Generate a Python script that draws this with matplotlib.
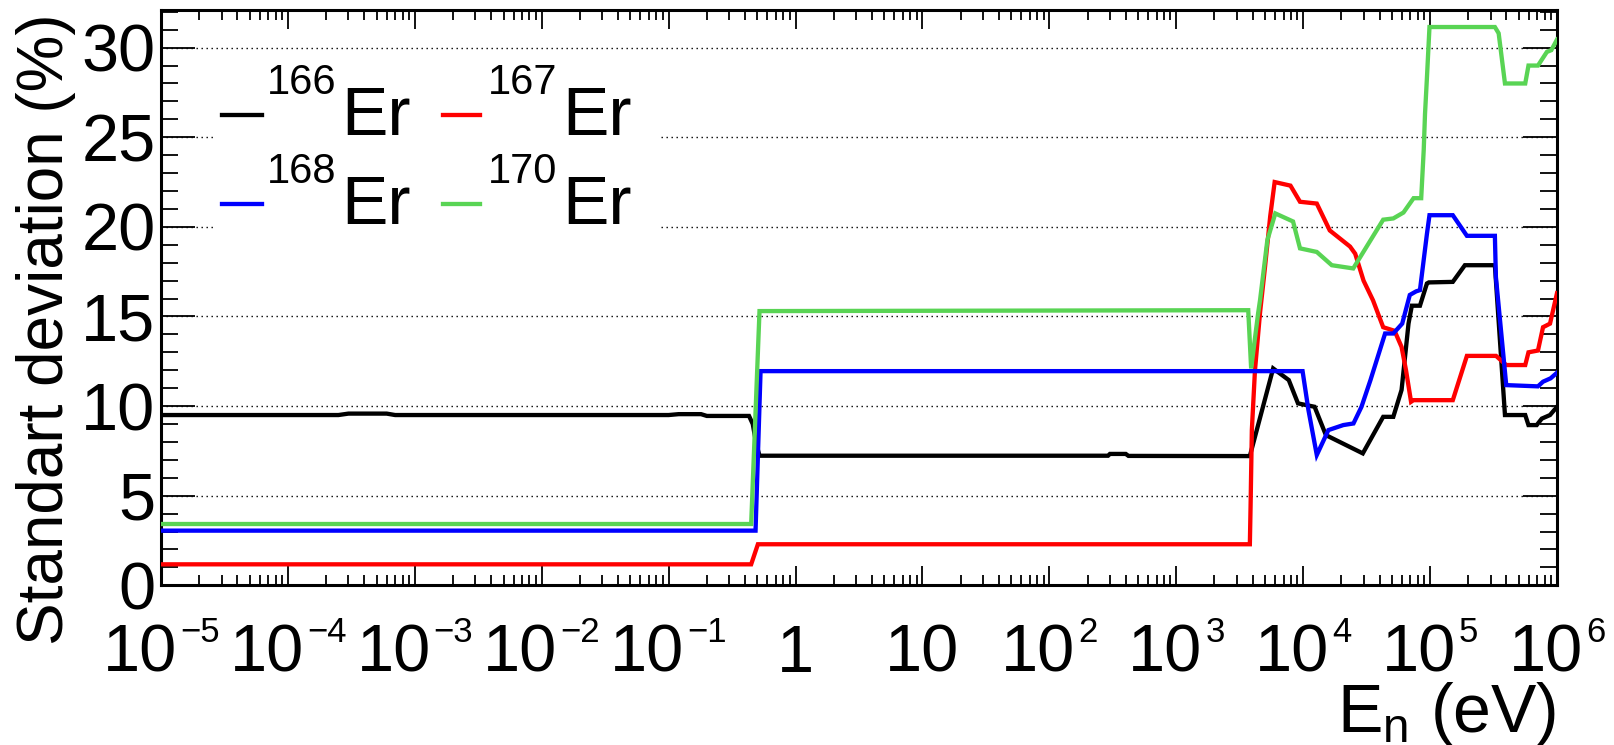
import matplotlib
matplotlib.use('Agg')
import matplotlib.pyplot as plt
from matplotlib.ticker import MultipleLocator, LogLocator, NullFormatter, FixedLocator
from matplotlib.patches import Rectangle
from matplotlib.lines import Line2D

plt.rcParams['font.family'] = ['Liberation Sans', 'DejaVu Sans']
plt.rcParams['mathtext.fontset'] = 'custom'
plt.rcParams['mathtext.rm'] = 'Liberation Sans'
plt.rcParams['mathtext.it'] = 'Liberation Sans:italic'

# ---------------- data ----------------
isotopes = ['166', '167', '168', '170']
colors = ['#000000', '#ff0000', '#0000ff', '#59d454']

energy_166 = [1e-5, 2.5e-4, 3e-4, 6e-4, 7e-4, 0.1, 0.12, 0.18, 0.2, 0.43, 0.46, 0.49, 0.52,
              290, 300, 400, 420, 3.8e3, 5.8e3, 7.7e3, 9.1e3, 1.23e4, 1.51e4, 2.95e4,
              4.27e4, 5.13e4, 5.96e4, 6.76e4, 7.18e4, 8.32e4, 9.44e4, 9.77e4, 1.51e5,
              1.88e5, 3.24e5, 3.89e5, 5.62e5, 5.96e5, 6.92e5, 7.59e5, 8.81e5, 1e6]
sigma_166 = [9.5, 9.5, 9.58, 9.58, 9.5, 9.5, 9.55, 9.55, 9.45, 9.45, 9.0, 7.9, 7.23,
             7.23, 7.33, 7.33, 7.22, 7.21, 12.1, 11.45, 10.15, 9.96, 8.38, 7.36,
             9.4, 9.4, 10.9, 14.6, 15.6, 15.6, 16.84, 16.9, 16.93,
             17.86, 17.86, 9.5, 9.5, 8.94, 8.94, 9.3, 9.5, 9.96]

energy_167 = [1e-5, 0.447, 0.505, 3.8e3, 3.85e3, 3.94e3, 4.17e3, 4.57e3, 5.01e3, 5.5e3,
              5.96e3, 7.94e3, 9.44e3, 1.28e4, 1.62e4, 2.34e4, 2.57e4, 2.99e4, 3.55e4,
              4.27e4, 5.25e4, 5.96e4, 6.46e4, 7.08e4, 7.4e4, 1.51e5, 1.95e5, 3.31e5,
              3.98e5, 5.62e5, 5.96e5, 7.08e5, 7.76e5, 8.81e5, 1e6]
sigma_167 = [1.17, 1.17, 2.29, 2.29, 4.4, 8.66, 12.0, 15.2, 17.8, 20.6,
             22.5, 22.3, 21.4, 21.3, 19.8, 18.9, 18.5, 17.0, 15.9,
             14.4, 14.2, 13.3, 12.0, 10.24, 10.33, 10.33, 12.8, 12.8,
             12.29, 12.29, 13.0, 13.1, 14.4, 14.6, 16.3]

energy_168 = [1e-5, 0.484, 0.53, 9.89e3, 1.1e4, 1.28e4, 1.58e4, 2.07e4, 2.49e4, 2.88e4,
              3.39e4, 4.42e4, 5.13e4, 6.03e4, 6.92e4, 7.76e4, 8.32e4, 9.44e4, 9.89e4,
              1.51e5, 1.95e5, 3.24e5, 3.3e5, 3.98e5, 7.08e5, 7.76e5, 8.91e5, 1e6]
sigma_168 = [3.05, 3.05, 11.95, 11.95, 9.78, 7.27, 8.66, 8.94, 9.03, 9.96,
             11.45, 14.05, 14.05, 14.6, 16.2, 16.4, 16.47, 19.6, 20.65,
             20.65, 19.5, 19.5, 17.2, 11.17, 11.1, 11.36, 11.55, 11.86]

energy_170 = [1e-5, 0.447, 0.52, 3.69e3, 3.89e3, 4.42e3, 4.57e3, 5.22e3, 6.03e3, 8.32e3,
              9.44e3, 1.28e4, 1.68e4, 2.48e4, 4.27e4, 5.13e4, 6.17e4, 7.41e4, 8.51e4,
              8.91e4, 9.12e4, 9.44e4, 9.89e4, 3.24e5, 3.47e5, 3.89e5, 5.62e5, 5.96e5,
              7.08e5, 8.32e5, 9.02e5, 1e6]
sigma_170 = [3.42, 3.42, 15.3, 15.35, 12.1, 15.2, 15.9, 19.26, 20.75, 20.3,
             18.8, 18.6, 17.86, 17.68, 20.4, 20.47, 20.8, 21.6, 21.6,
             24.3, 26.3, 28.3, 31.15, 31.15, 30.8, 28.0, 28.0, 29.0,
             29.0, 29.76, 29.86, 30.45]

x_decades = [1e-5, 1e-4, 1e-3, 1e-2, 1e-1, 1, 10, 1e2, 1e3, 1e4, 1e5, 1e6]
x_mantissa = ['10', '10', '10', '10', '10', '1', '10', '10', '10', '10', '10', '10']
x_exponent = ['\u22125', '\u22124', '\u22123', '\u22122', '\u22121', '', '', '2', '3', '4', '5', '6']
y_ticks = [0, 5, 10, 15, 20, 25, 30]
y_label = 'Standart deviation (%)'
x_label = r'E$_{\mathregular{n}}$ (eV)'

energies = [energy_166, energy_167, energy_168, energy_170]
sigmas = [sigma_166, sigma_167, sigma_168, sigma_170]

# ---------------- figure ----------------
W, H, DPI = 1615, 745, 100
fig = plt.figure(figsize=(W / DPI, H / DPI), dpi=DPI)
ax_l, ax_r, ax_t, ax_b = 161, 1557, 10, 585.3
ax = fig.add_axes([ax_l / W, 1 - ax_b / H, (ax_r - ax_l) / W, (ax_b - ax_t) / H])

for i, (e, s) in enumerate(zip(energies, sigmas)):
    ax.plot(e, s, color=colors[i], lw=3.1, solid_joinstyle='miter', zorder=3 + i)

ax.set_xscale('log')
ax.set_xlim(1e-5, 1e6)
ax.set_ylim(0, 32.1)

ax.xaxis.set_major_locator(FixedLocator(x_decades))
ax.xaxis.set_minor_locator(LogLocator(base=10, subs=range(2, 10), numticks=50))
ax.xaxis.set_major_formatter(NullFormatter())
ax.xaxis.set_minor_formatter(NullFormatter())
ax.yaxis.set_major_locator(FixedLocator(y_ticks))
ax.yaxis.set_minor_locator(MultipleLocator(1))

ax.tick_params(axis='both', which='both', direction='in', top=True, right=True,
               color='black', width=1.3)
ax.tick_params(axis='y', which='major', length=24.5, labelsize=48, pad=4)
ax.tick_params(axis='y', which='minor', length=12)
ax.tick_params(axis='x', which='major', length=13.7)
ax.tick_params(axis='x', which='minor', length=7.2)
for sp in ax.spines.values():
    sp.set_linewidth(2.2)

ax.set_axisbelow(True)
ax.yaxis.grid(True, which='major', linestyle=(0, (1, 2.6)), linewidth=1.0, color='black')
ax.xaxis.grid(False)

# x tick labels (ROOT style: 10 with small exponent), placed with pixel offsets
renderer = fig.canvas.get_renderer()
MANT_BASE = -86.5
EXP_BASE = -56.5
for xv, mant, expo in zip(x_decades, x_mantissa, x_exponent):
    tm = ax.annotate(mant, xy=(xv, 0), xycoords=('data', 'axes fraction'),
                     xytext=(0, MANT_BASE), textcoords='offset pixels',
                     fontsize=48, ha='left', va='baseline', annotation_clip=False)
    wm = tm.get_window_extent(renderer).width
    we = 0
    te = None
    if expo:
        te = ax.annotate(expo, xy=(xv, 0), xycoords=('data', 'axes fraction'),
                         xytext=(0, EXP_BASE), textcoords='offset pixels',
                         fontsize=25, ha='left', va='baseline', annotation_clip=False)
        we = te.get_window_extent(renderer).width + 3
    x0 = -(wm + we) / 2
    tm.xyann = (x0, MANT_BASE)
    if te is not None:
        te.xyann = (x0 + wm + 3, EXP_BASE)

# axis titles
fig.text(16 / W, 1 - 13 / H, y_label, rotation=90, ha='left', va='top', fontsize=46)
fig.text(1556 / W, 1 - 732 / H, x_label, ha='right', va='baseline', fontsize=49)

# legend (ROOT TLegend look, white fill, no border)
def axx(px):
    return (px - ax_l) / (ax_r - ax_l)

def axy(py):
    return (ax_b - py) / (ax_b - ax_t)

ax.add_patch(Rectangle((axx(215), axy(248.5)), axx(658) - axx(215), axy(70.5) - axy(248.5),
                       transform=ax.transAxes, facecolor='white', edgecolor='none', zorder=1))
col_handle = [(221.7, 261.7), (443, 480)]
col_sup = [267, 488]
col_er = [341, 562]
row_line = [115, 204]
row_sup = [94, 183]
row_er = [135, 224]
for i, iso in enumerate(isotopes):
    r, c = divmod(i, 2)
    ax.add_line(Line2D([axx(col_handle[c][0]), axx(col_handle[c][1])],
                       [axy(row_line[r]), axy(row_line[r])], transform=ax.transAxes,
                       color=colors[i], lw=3.1, zorder=10))
    ax.text(axx(col_sup[c]), axy(row_sup[r]), iso, transform=ax.transAxes,
            fontsize=30, ha='left', va='baseline', zorder=10)
    ax.text(axx(col_er[c]), axy(row_er[r]), 'Er', transform=ax.transAxes,
            fontsize=50, ha='left', va='baseline', zorder=10)

fig.savefig('out.png', dpi=DPI)
